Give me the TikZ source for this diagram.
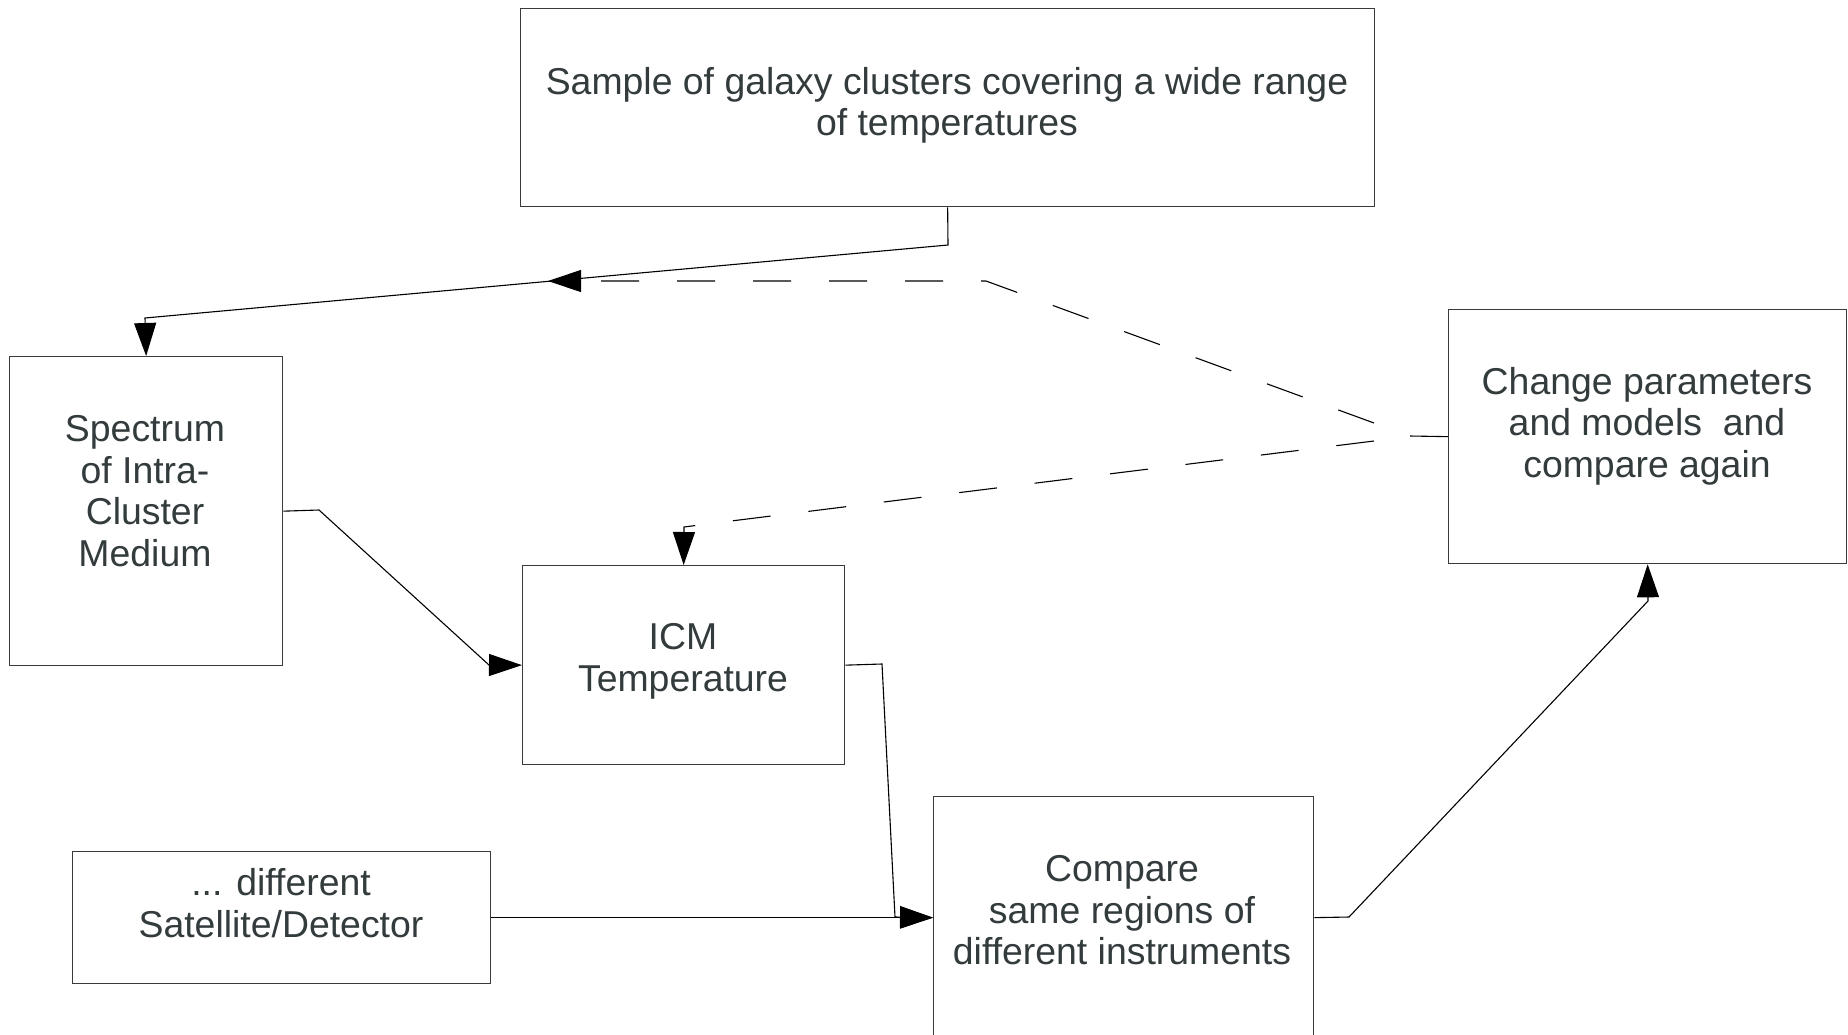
\documentclass[tikz,border=0pt]{standalone}
\usepackage{fontspec}
\setmainfont{Liberation Sans}
\usetikzlibrary{arrows.meta}
\definecolor{txt}{HTML}{333B3D}
\definecolor{frame}{HTML}{3A3A3A}
\begin{document}
\begin{tikzpicture}[x=1pt,y=-1pt,
  box/.style={draw=frame, line width=1.3pt, inner sep=0pt, anchor=north west},
  lbl/.style={text=txt, font=\fontsize{37.4}{41.6}\selectfont, align=center, inner sep=0pt},
  conn/.style={line width=1.1pt, draw=black},
  tip/.style={-{Triangle[length=33pt,width=22pt]}},
  dsh/.style={dash pattern=on 38pt off 38pt}]
\clip (0,0) rectangle (1848,1034);
\fill[white] (0,0) rectangle (1848,1034);

% boxes
\node[box, minimum width=854pt, minimum height=198pt] (top) at (520,8) {};
\node[box, minimum width=273pt, minimum height=309pt] (spec) at (9,356) {};
\node[box, minimum width=322pt, minimum height=199pt] (icm) at (522,565) {};
\node[box, minimum width=418pt, minimum height=132pt] (sat) at (72,851) {};
\node[box, minimum width=380pt, minimum height=242pt] (cmp) at (933,796) {};
\node[box, minimum width=398pt, minimum height=254pt] (chg) at (1448,309) {};

% labels
\node[lbl] (tTop) at (947,105.5) {Sample of galaxy clusters covering a wide range\\of temperatures};
\node[lbl] (tSpec) at (145,491) {Spectrum\\of Intra-\\Cluster\\Medium};
\node[lbl] (tIcm) at (683,661.5) {ICM\\Temperature};
\node[lbl] (tSat) at (281,903) {... different\\Satellite/Detector};
\node[lbl] (tCmp) at (1122,910.5) {Compare\\same regions of\\different instruments};
\node[lbl] (tChg) at (1647,426) {Change parameters\\and models~ and\\compare again};

% connector coordinates
\coordinate (a1) at (948,245);
\coordinate (a2) at (145,318);
\coordinate (mid) at (548,281);
\coordinate (b1) at (319,510);
\coordinate (b2) at (489,665);
\coordinate (c1) at (882,664);
\coordinate (c2) at (895,917);
\coordinate (d1) at (1349,917);
\coordinate (d2) at (1648,601);
\coordinate (e0) at (1410,436);
\coordinate (e1) at (1374,423);
\coordinate (e2) at (986,281);
\coordinate (f1) at (1374,441);
\coordinate (f2) at (723,522);
\coordinate (f3) at (684,527);

% connectors
\draw[conn, tip] (top.south) -- (a1) -- (a2) -- (spec.north);
\draw[conn, tip] (spec.east) -- (b1) -- (b2) -- (icm.west);
\draw[conn, tip] (icm.east) -- (c1) -- (c2) -- (cmp.west);
\draw[conn, tip] (sat.east) -- (cmp.west);
\draw[conn, tip] (cmp.east) -- (d1) -- (d2) -- (chg.south);
\draw[conn] (chg.west) -- (e0);
\draw[conn, dsh, tip] (e1) -- (e2) -- (mid);
\draw[conn, dsh, tip] (f1) -- (f2) -- (f3) -- (icm.north);
\end{tikzpicture}
\end{document}
